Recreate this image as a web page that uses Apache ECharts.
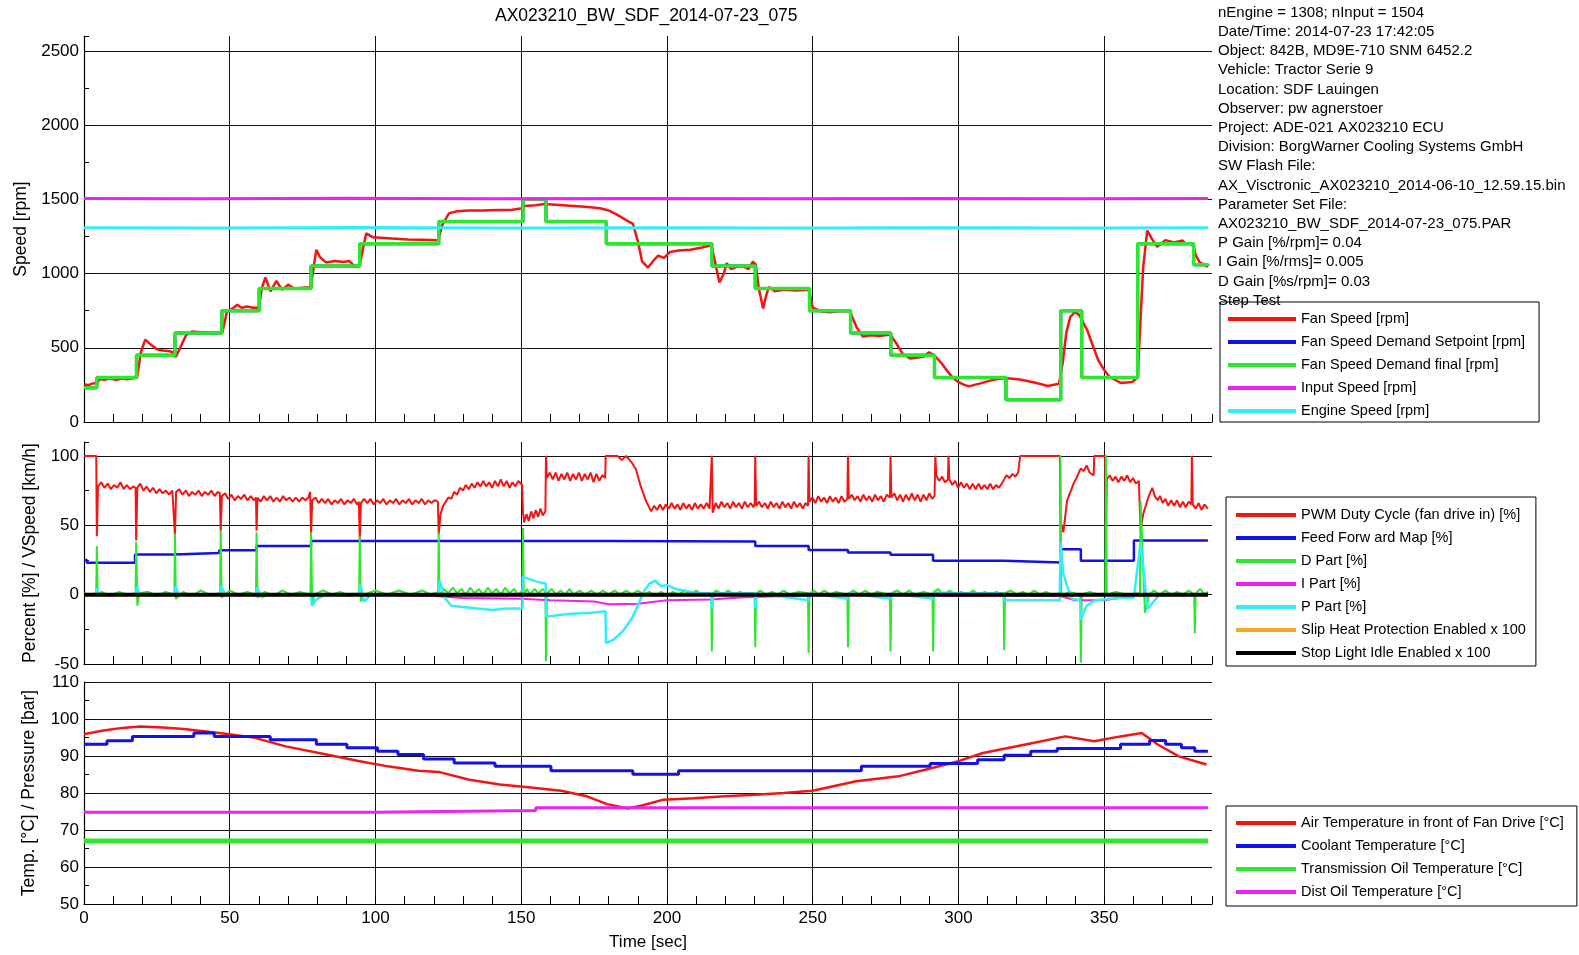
<!DOCTYPE html>
<html>
<head>
<meta charset="utf-8">
<script src="https://cdn.jsdelivr.net/npm/echarts@6.0.0/dist/echarts.min.js"></script>
<style>
html, body { margin: 0; padding: 0; background: #fff; }
#main { width: 1579px; height: 955px; }
</style>
</head>
<body>
<div id="main"></div>
<script>
// ---- speed panel [t sec, rpm] ----
var fanSpeed = [[0,255],[1.5,248],[3,260],[4.4,262],[5.5,290],[7,285],[9,295],[11,283],[13,292],[15,288],[17,295],[18.2,300],[19.5,470],[21,555],[23,520],[25,490],[27,482],[29,478],[30.5,470],[31.5,438],[33,500],[35,585],[37,610],[40,605],[43,600],[46,602],[47.5,605],[49,740],[51,765],[52.6,790],[54,770],[56,778],[58,770],[60,770],[61,900],[62.2,973],[64,880],[66,950],[68,890],[70,925],[72,900],[75,905],[77.8,910],[79.7,1160],[81,1110],[83,1075],[86,1085],[89,1078],[91,1085],[93,1045],[94.6,1060],[96.8,1270],[99,1245],[103,1240],[107,1235],[111,1230],[116,1228],[121.5,1225],[123,1330],[125.2,1405],[128,1420],[132,1425],[137,1425],[142,1428],[147,1430],[150.3,1440],[151,1455],[155,1460],[158,1468],[163,1462],[168,1455],[173,1448],[177,1440],[180,1425],[183,1395],[186,1360],[188.3,1335],[190,1220],[191.5,1080],[193.5,1040],[195.5,1090],[197,1120],[199,1105],[201,1145],[204,1155],[208,1160],[212,1175],[215.2,1190],[216.5,1080],[218,940],[219.5,1000],[220.5,1070],[222,1030],[224,1045],[226,1050],[228,1030],[229.5,1080],[230.5,1060],[231.5,900],[233,765],[234,850],[235,910],[237,880],[240,890],[244,885],[248.8,890],[250,770],[253,745],[256,740],[260,750],[262.8,745],[265,640],[267.2,575],[270,585],[273,580],[276.6,590],[279,520],[281,455],[283.6,427],[286,435],[288,440],[289.9,470],[291.8,448],[294,400],[296,348],[298,300],[299.9,270],[302,250],[303.7,240],[305.5,250],[307.5,260],[311.5,282],[316,297],[321,286],[324,275],[326.8,263],[330.7,243],[334.5,258],[335.8,400],[337,600],[338.4,708],[340,741],[341.5,720],[344.2,618],[346,520],[348,415],[350,350],[351.9,303],[355.7,263],[359.6,270],[361.5,300],[362.5,700],[363.4,1044],[364.8,1290],[366.5,1230],[368.2,1180],[371,1225],[374,1210],[376.9,1222],[378,1200],[380.4,1200],[381.5,1120],[382.7,1078],[385.6,1044]];
var fanDemand = [[0,230],[4.4,300],[18,450],[31.2,600],[47.3,750],[60.1,900],[77.9,1050],[94.6,1200],[121.7,1350],[150.6,1500],[158.5,1350],[179.2,1200],[215.4,1050],[230.3,900],[248.9,750],[263,600],[276.8,450],[291.8,300],[316.3,150],[335.1,750],[342.3,300],[361.5,1200],[380.7,1060],[385.6,1050]];
var inputSpeed = [[0,1506],[40,1503],[90,1507],[140,1504],[190,1506],[240,1503],[290,1506],[340,1504],[385.6,1505]];
var engineSpeed = [[0,1308],[45,1306],[95,1310],[145,1307],[195,1309],[245,1306],[295,1309],[345,1307],[385.6,1308]];

// ---- percent panel [t sec, %] ----
var pwmDuty = [[0,100],[4.2,100],[4.4,42],[4.8,78],[5.9,81],[7,77],[8.1,80],[9.2,76],[10.3,79],[11.4,77],[12.5,81],[13.6,76],[14.7,79],[15.8,76],[16.9,78],[17.7,77],
  [17.9,39],[18.3,77],[19.3,80],[20.4,75],[21.5,78],[22.6,74],[23.7,77],[24.8,73],[25.9,76],[27,73],[28.1,75],[29.2,72],[30.3,75],[30.8,74],
  [31.2,43],[31.6,74],[32.7,76],[33.8,72],[34.9,75],[36,71],[37.1,74],[38.2,72],[39.3,75],[40.4,71],[41.5,74],[42.6,72],[43.7,75],[44.8,71],[45.9,74],[46.6,73],
  [46.9,46],[47.3,71],[48.4,73],[49.5,69],[50.6,72],[51.7,68],[52.8,71],[53.9,69],[55,72],[56.1,68],[57.2,71],[58.3,68],[59,70],
  [59.2,46],[59.5,70],[60.6,67],[61.7,71],[62.8,68],[63.9,71],[65,67],[66.1,70],[67.2,67],[68.3,71],[69.4,68],[70.5,70],[71.6,67],[72.7,70],[73.8,67],[74.9,70],[76,68],[77,70],[77.6,74],
  [77.9,43],[78.3,68],[79.4,70],[80.5,66],[81.6,69],[82.7,66],[83.8,69],[84.9,65],[86,68],[87.1,66],[88.2,69],[89.3,65],[90.4,68],[91.5,66],[92.6,69],[93.7,65],[94.3,67],
  [94.6,39],[95,66],[96.1,69],[97.2,66],[98.3,69],[99.4,65],[100.5,68],[101.6,66],[102.7,69],[103.8,65],[104.9,68],[106,66],[107.1,69],[108.2,65],[109.3,68],[110.4,66],[111.5,69],[112.6,65],[113.7,68],[114.8,66],[115.9,69],[117,65],[118.1,68],[119.2,66],[120.3,68],[121.4,67],
  [121.7,43],[122.3,58],[123.2,64],[124.1,67],[125,70],[126,69],[127,74],[128,72],[129,77],[130,75],[131,79],[132,76],[133,80],[134,77],[135,81],[136,78],[137,82],[138,78],[139,81],[140,77],[141,82],[142,78],[143,83],[144,78],[145,82],[146,77],[147,81],[148,78],[149,82],[150.3,79],
  [150.6,60],[151,52],[151.8,58],[152.6,53],[153.4,60],[154.2,55],[155,61],[155.8,56],[156.6,62],[157.4,57],[158.3,60],
  [158.5,100],[158.8,84],[159.8,88],[160.8,83],[161.8,88],[162.8,82],[163.8,87],[164.8,83],[165.8,88],[166.8,82],[167.8,87],[168.8,83],[169.8,88],[170.8,82],[171.8,87],[172.8,83],[173.8,88],[174.8,81],[175.8,87],[176.8,82],[177.8,86],[178.8,84],
  [179,100],[183,100],[184.5,97],[186,100],[186.8,98],[188,95],[189.4,90],[191,78],[192.9,67],[194.6,60],
  [195.6,64],[196.6,61],[197.6,65],[198.6,61],[199.6,65],[200.6,62],[201.6,66],[202.6,62],[203.6,65],[204.6,61],[205.6,66],[206.6,62],[207.6,65],[208.6,61],[209.6,66],[210.6,62],[211.6,65],[212.6,62],[213.6,66],[214.6,62],[215.2,63],
  [215.4,100],[215.7,59],[216.7,66],[217.7,62],[218.7,67],[219.7,63],[220.7,66],[221.7,62],[222.7,67],[223.7,63],[224.7,66],[225.7,62],[226.7,67],[227.7,63],[228.7,66],[229.7,63],[230.1,66],
  [230.3,100],[230.6,64],[231.6,67],[232.6,63],[233.6,66],[234.6,62],[235.6,67],[236.6,63],[237.6,66],[238.6,62],[239.6,67],[240.6,63],[241.6,66],[242.6,62],[243.6,67],[244.6,63],[245.6,66],[246.6,62],[247.6,66],[248.4,64],
  [248.6,100],[248.9,67],[249.9,70],[250.9,66],[251.9,71],[252.9,67],[253.9,70],[254.9,66],[255.9,71],[256.9,67],[257.9,70],[258.9,66],[259.9,71],[260.9,67],[261.9,69],
  [262.1,100],[262.4,69],[263.4,72],[264.4,68],[265.4,71],[266.4,67],[267.4,72],[268.4,68],[269.4,71],[270.4,67],[271.4,72],[272.4,68],[273.4,71],[274.4,67],[275.4,72],[276.5,70],
  [276.7,100],[277,70],[278,73],[279,68],[280,72],[281,67],[282,72],[283,68],[284,73],[285,68],[286,72],[287,67],[288,72],[289,68],[290,73],[291,69],[291.8,71],
  [292.1,100],[292.4,86],[293.4,82],[294.4,85],[295.4,81],[296.4,83],[296.6,100],[296.9,83],[297.9,79],[298.9,82],[299.9,77],[300.9,81],[301.9,77],[302.9,80],[303.9,76],[304.9,80],[305.9,76],[306.9,80],[307.9,76],[308.9,79],[309.9,76],[310.9,80],[311.9,76],[312.9,79],[313.9,77],[314.9,80],[315.5,79],
  [316.5,86],[317.5,84],[318.5,87],[319.5,85],[320.5,88],[321.2,100],[334.8,100],
  [335,53],[336,45],[337.3,68],[338.6,75],[339.5,80],[340.5,84],[341.3,88],[342,91],[343,89],[344,93],[345,88],[346.4,86],[346.6,100],[350.4,100],
  [350.6,40],[350.9,83],[351.9,86],[352.9,82],[353.9,85],[354.9,81],[355.9,85],[356.9,82],[357.9,86],[358.9,81],[359.9,84],[360.9,80],[361.9,82],
  [362.5,46],[363.4,58],[364.4,65],[365.5,72],[366.5,77],[367.4,71],[368.3,68],[369.2,71],[370.1,66],[371,69],[372,64],[373,68],[374,64],[375,68],[376,63],[377,67],[378,63],[379,67],[379.9,65],
  [380.1,100],[380.4,65],[381.4,62],[382.4,66],[383.4,61],[384.4,65],[385.6,62]];
var feedForward = [[0,25],[1,23],[17.5,29],[31,30],[46.4,32],[59.2,35],[77.9,38.6],[179,38.2],[230.3,35],[248.6,32.2],[262.1,30.3],[276.7,28.7],[291.3,24.4],[315.7,23.2],[335.2,32.7],[342,24.4],[360.2,39],[385.6,39]];
var dPart = [[0,1],[2,0],[4.2,1],[4.4,35],[4.7,0],[6,2],[9,-1],[12,2],[15,0],[17.7,1],[17.9,38],[18.3,-8],[19,1],[22,2],[25,-1],[28,2],[31,0],[31.2,44],[31.5,-3],[34,2],[37,-1],[40,3],[43,0],[46.7,1],[46.9,46],[47.2,-2],[50,3],[53,0],[56,2],[59,0],[59.2,45],[59.5,-2],[62,2],[65,-1],[68,3],[71,0],[74,2],[77.7,0],[77.9,45],[78.3,-8],[79,0],[82,3],[85,0],[88,2],[91,-1],[94.4,1],[94.6,42],[95,-5],[96,0],[100,3],[104,0],[108,3],[112,0],[116,3],[119,0],[121.5,2],[121.7,45],[122,-1],[123.5,4],[125,1],[126.5,5],[128,1],[129.5,4],[131,0],[132.5,5],[134,1],[135.5,4],[137,0],[138.5,5],[140,1],[141.5,4],[143,0],[144.5,5],[146,1],[147.5,4],[149,0],[150.4,3],[150.6,48],[150.9,0],[152,4],[153,0],[154.5,4],[156,1],[157.3,4],[158.3,2],[158.5,-48],[158.8,1],[160.5,4],[162,0],[163.5,3],[165,0],[166.5,4],[168,0],[170,3],[172,0],[174,3],[176,0],[178,3],[180,0],[182,3],[184,0],[186,3],[188,0],[190,3],[192,0],[194,2],[196,-1],[198,2],[200,-1],[202,2],[204,0],[206,3],[208,0],[210,3],[212,0],[215.2,0],[215.4,-41],[215.7,1],[217,3],[219,0],[221,3],[223,0],[225,2],[227,0],[230.1,0],[230.3,-38],[230.6,1],[232,3],[234,0],[236,2],[238,0],[240,3],[242,0],[245,2],[248.4,1],[248.6,-42],[248.9,1],[250.5,3],[252,0],[254,3],[256,0],[258,2],[261.9,0],[262.1,-38],[262.4,1],[264,3],[266,0],[268,3],[270,0],[272,2],[276.5,0],[276.7,-41],[277,1],[279,3],[281,0],[283,3],[285,0],[288,2],[291.1,0],[291.3,-41],[291.6,2],[293,4],[295,0],[297,3],[299,0],[301,2],[303,0],[305,3],[307,0],[309,2],[311,0],[313,2],[315.5,0],[315.7,-40],[316,1],[318,3],[320,0],[322,2],[324,0],[326,3],[328,0],[330,2],[332,0],[334.8,1],[335,100],[335.3,-1],[338,2],[341.8,0],[342,-49],[342.3,0],[345,2],[348,0],[350.4,1],[350.6,100],[350.9,0],[354,2],[358,0],[362.3,1],[362.5,67],[364,-13],[365.5,0],[367,3],[369,0],[371,3],[373,0],[375,2],[377,0],[379,3],[380.9,0],[381.1,-28],[381.4,1],[383,4],[384.5,0],[385.6,2]];
var iPart = [[0,0],[60,0],[100,0],[120,-1],[130,-2.5],[150,-3],[160,-4],[175,-5],[180,-7],[190,-6.5],[200,-4],[215,-3.5],[225,-2],[240,-1],[260,0],[290,-0.5],[300,-1],[315,-0.5],[335,-1],[340,-4],[350,-4],[356,-2],[362,0],[385.6,0]];
var pPart = [[0,0],[4.2,0],[4.5,5],[5,0],[17.8,0],[18.2,6],[19,0],[31,0],[31.4,6],[32.5,0],[46.8,0],[47.1,6],[48.5,0],[59,0],[59.4,5],[61,-2],[63,0],[77.8,0],[78.2,-8],[80,-3],[83,0],[94.5,0],[94.8,8],[96,-5],[98,-1],[100,0],[121.6,0],[122,10],[124,-3],[126,-8],[130,-9],[135,-10],[140,-11],[145,-10],[150.4,-10],[150.6,13],[153,11],[156,9],[158.4,8],[158.6,-16],[162,-15],[166,-14],[170,-13.5],[174,-13],[178.9,-12],[179.1,-35],[182,-32],[185,-26],[188,-17],[190,-8],[192,2],[194,8],[196,10],[198,6],[200,7],[203,4],[206,3],[210,1],[215.2,1],[215.4,-10],[216,1],[230.1,1],[230.3,-10],[231,1],[248.6,-4],[249,1],[262.1,-3],[262.5,1],[276.7,-3],[277,1],[291.3,-3],[292,1.5],[300,1],[315.5,1],[315.7,-4],[320,-4],[334.8,-4],[335,38],[336,15],[337.5,5],[339,-3],[341.8,-4],[342,-18],[344,-8],[347,-4],[352,-3],[360.2,-2],[362.5,38],[364.4,0],[365,-10],[367,-5],[369,0],[385.6,0]];
var slipHeat = [[0,0],[385.6,0]];
var stopLightIdle = [[0,0],[385.6,0]];

// ---- temperature panel [t sec, degC] ----
var airTemp = [[0,95.9],[6.1,96.8],[13.1,97.6],[19.3,98],[27.1,97.7],[34.2,97.3],[41.2,96.7],[49.9,95.9],[58.7,94.9],[69.2,92.6],[83.2,90.4],[93.7,88.7],[104.2,87.2],[114.7,86],[121.7,85.7],[132.2,83.6],[142.7,82.3],[153.2,81.5],[163.7,80.6],[172.5,79.1],[179.5,77],[186.5,75.8],[191.8,76.7],[198.8,78.2],[209.3,78.6],[219.8,79.1],[230.3,79.5],[240,80],[250,80.6],[264.9,83.2],[279.4,84.5],[290.3,86.6],[300,88.6],[308.4,90.8],[323,93.1],[336.6,95.3],[346.6,94],[355.6,95.3],[362.9,96.2],[368.4,93.1],[375.6,89.9],[385.1,87.7]];
var coolantTemp = [[0,93.2],[7.9,94.1],[16.6,95.3],[37.7,96.2],[44.7,95.3],[63.9,94.4],[79.7,93.2],[90.2,92.2],[100.7,91.3],[107.7,90.4],[116.5,89.2],[127,88.1],[141,87.2],[160.2,86],[188.3,85.1],[204,86],[266.7,87.2],[290.3,88],[306.6,89],[315.7,90.2],[324.8,91.3],[333.9,92],[355.6,93.2],[365.6,94.2],[371.1,93.2],[376.5,92.2],[381.1,91.3],[385.6,91.3]];
var transOilTemp = [[0,67],[385.6,67]];
var distOilTemp = [[0,74.8],[100,75.3],[155,76],[385.6,76]];

var infoLines = [
  'nEngine = 1308; nInput = 1504',
  'Date/Time: 2014-07-23 17:42:05',
  'Object: 842B, MD9E-710 SNM 6452.2',
  'Vehicle: Tractor Serie 9',
  'Location: SDF Lauingen',
  'Observer: pw agnerstoer',
  'Project: ADE-021 AX023210 ECU',
  'Division: BorgWarner Cooling Systems GmbH',
  'SW Flash File:',
  'AX_Visctronic_AX023210_2014-06-10_12.59.15.bin',
  'Parameter Set File:',
  'AX023210_BW_SDF_2014-07-23_075.PAR',
  'P Gain [%/rpm]= 0.04',
  'I Gain [%/rms]= 0.005',
  'D Gain [%s/rpm]= 0.03',
  'Step Test'
];

var FONT = 'Liberation Sans, Arial, sans-serif';
var chart = echarts.init(document.getElementById('main'));

function plain(v) { return '' + v; }

function xAx(i) {
  return {
    gridIndex: i, type: 'value', min: 0, max: 387, interval: 50,
    name: i === 2 ? 'Time [sec]' : '', nameLocation: 'middle', nameGap: 30,
    nameTextStyle: { fontSize: 17, color: '#000' },
    axisLine: { show: true, onZero: false, lineStyle: { color: '#000', width: 1.2 } },
    axisTick: { show: true, inside: true, length: 8, lineStyle: { color: '#000' } },
    minorTick: { show: true, splitNumber: 5, length: 8, lineStyle: { color: '#000' } },
    splitLine: { show: true, showMaxLine: false, lineStyle: { color: '#111', width: 1 } },
    axisLabel: { show: i === 2, fontSize: 17, color: '#000', margin: 6, showMaxLabel: false, formatter: plain }
  };
}
function yAx(i, min, max, interval, name, gap, showMax) {
  return {
    gridIndex: i, type: 'value', min: min, max: max, interval: interval,
    name: name, nameLocation: 'middle', nameGap: gap,
    nameTextStyle: { fontSize: 17.5, color: '#000' },
    axisLine: { show: true, lineStyle: { color: '#000', width: 1.2 } },
    axisTick: { show: true, inside: true, length: 5, lineStyle: { color: '#000' } },
    minorTick: { show: true, splitNumber: 2, length: 5, lineStyle: { color: '#000' } },
    splitLine: { show: true, showMaxLine: showMax, lineStyle: { color: '#111', width: 1 } },
    axisLabel: { fontSize: 17, color: '#000', margin: 5, showMaxLabel: showMax, formatter: plain }
  };
}
function line(name, data, color, width, xi, step) {
  return {
    name: name, type: 'line', data: data, xAxisIndex: xi, yAxisIndex: xi,
    showSymbol: false, symbol: 'none', step: step || false, color: color,
    lineStyle: { color: color, width: width }, silent: true
  };
}
function legendBox(names, left, top, padding, iconW) {
  return {
    data: names, orient: 'vertical', left: left, top: top, padding: padding,
    icon: 'rect', itemWidth: iconW, itemHeight: 4, itemGap: 7, selectedMode: false,
    borderColor: '#000', borderWidth: 1, backgroundColor: '#fff',
    textStyle: { fontSize: 14.5, color: '#000', lineHeight: 16, fontFamily: FONT }
  };
}

var RED = '#f41414', BLUE = '#1212e6', GREEN = '#2ee62e', MAG = '#ee22ee', CYAN = '#33eef6';

var option = {
  animation: false,
  textStyle: { fontFamily: FONT },
  title: [{
    text: 'AX023210_BW_SDF_2014-07-23_075', left: 495, top: 7, padding: 0,
    textStyle: { fontSize: 17.5, fontWeight: 'normal', color: '#000' }
  }, {
    text: infoLines.join('\n'), left: 1218, top: 3, padding: 0,
    textStyle: { fontSize: 15, fontWeight: 'normal', color: '#000', lineHeight: 19.2 }
  }],
  legend: [
    legendBox(['Fan Speed [rpm]', 'Fan Speed Demand Setpoint [rpm]', 'Fan Speed Demand final [rpm]', 'Input Speed [rpm]', 'Engine Speed [rpm]'], 1220, 302, [9, 14, 3, 8], 68),
    legendBox(['PWM Duty Cycle (fan drive in) [%]', 'Feed Forw ard Map [%]', 'D Part [%]', 'I Part [%]', 'P Part [%]', 'Slip Heat Protection Enabled x 100', 'Stop Light Idle Enabled x 100'], 1226, 497, [10, 10, 5, 10], 60),
    legendBox(['Air Temperature in front of Fan Drive [°C]', 'Coolant Temperature [°C]', 'Transmission Oil Temperature [°C]', 'Dist Oil Temperature [°C]'], 1226, 806, [9, 13, 6, 10], 60)
  ],
  grid: [
    { left: 84, right: 367, top: 36, height: 386 },
    { left: 84, right: 367, top: 442, height: 222 },
    { left: 84, right: 367, top: 682, height: 222 }
  ],
  xAxis: [xAx(0), xAx(1), xAx(2)],
  yAxis: [
    yAx(0, 0, 2600, 500, 'Speed [rpm]', 51, false),
    yAx(1, -50, 110, 50, 'Percent [%] / VSpeed [km/h]', 45, false),
    yAx(2, 50, 110, 10, 'Temp. [°C] / Pressure [bar]', 46, true)
  ],
  series: [
    line('Fan Speed [rpm]', fanSpeed, RED, 2.5, 0),
    line('Fan Speed Demand Setpoint [rpm]', fanDemand, BLUE, 3, 0, 'end'),
    line('Fan Speed Demand final [rpm]', fanDemand, GREEN, 3.5, 0, 'end'),
    line('Input Speed [rpm]', inputSpeed, MAG, 3, 0),
    line('Engine Speed [rpm]', engineSpeed, CYAN, 3, 0),

    line('PWM Duty Cycle (fan drive in) [%]', pwmDuty, RED, 2, 1),
    line('Feed Forw ard Map [%]', feedForward, BLUE, 2.5, 1, 'end'),
    line('D Part [%]', dPart, GREEN, 2, 1),
    line('I Part [%]', iPart, MAG, 2, 1),
    line('P Part [%]', pPart, CYAN, 2.5, 1),
    line('Slip Heat Protection Enabled x 100', slipHeat, '#f5a623', 3, 1),
    line('Stop Light Idle Enabled x 100', stopLightIdle, '#000', 4, 1),

    line('Air Temperature in front of Fan Drive [°C]', airTemp, RED, 2.5, 2),
    line('Coolant Temperature [°C]', coolantTemp, BLUE, 3, 2, 'end'),
    line('Transmission Oil Temperature [°C]', transOilTemp, GREEN, 5, 2),
    line('Dist Oil Temperature [°C]', distOilTemp, MAG, 3, 2, 'end')
  ]
};
chart.setOption(option);
</script>
</body>
</html>
